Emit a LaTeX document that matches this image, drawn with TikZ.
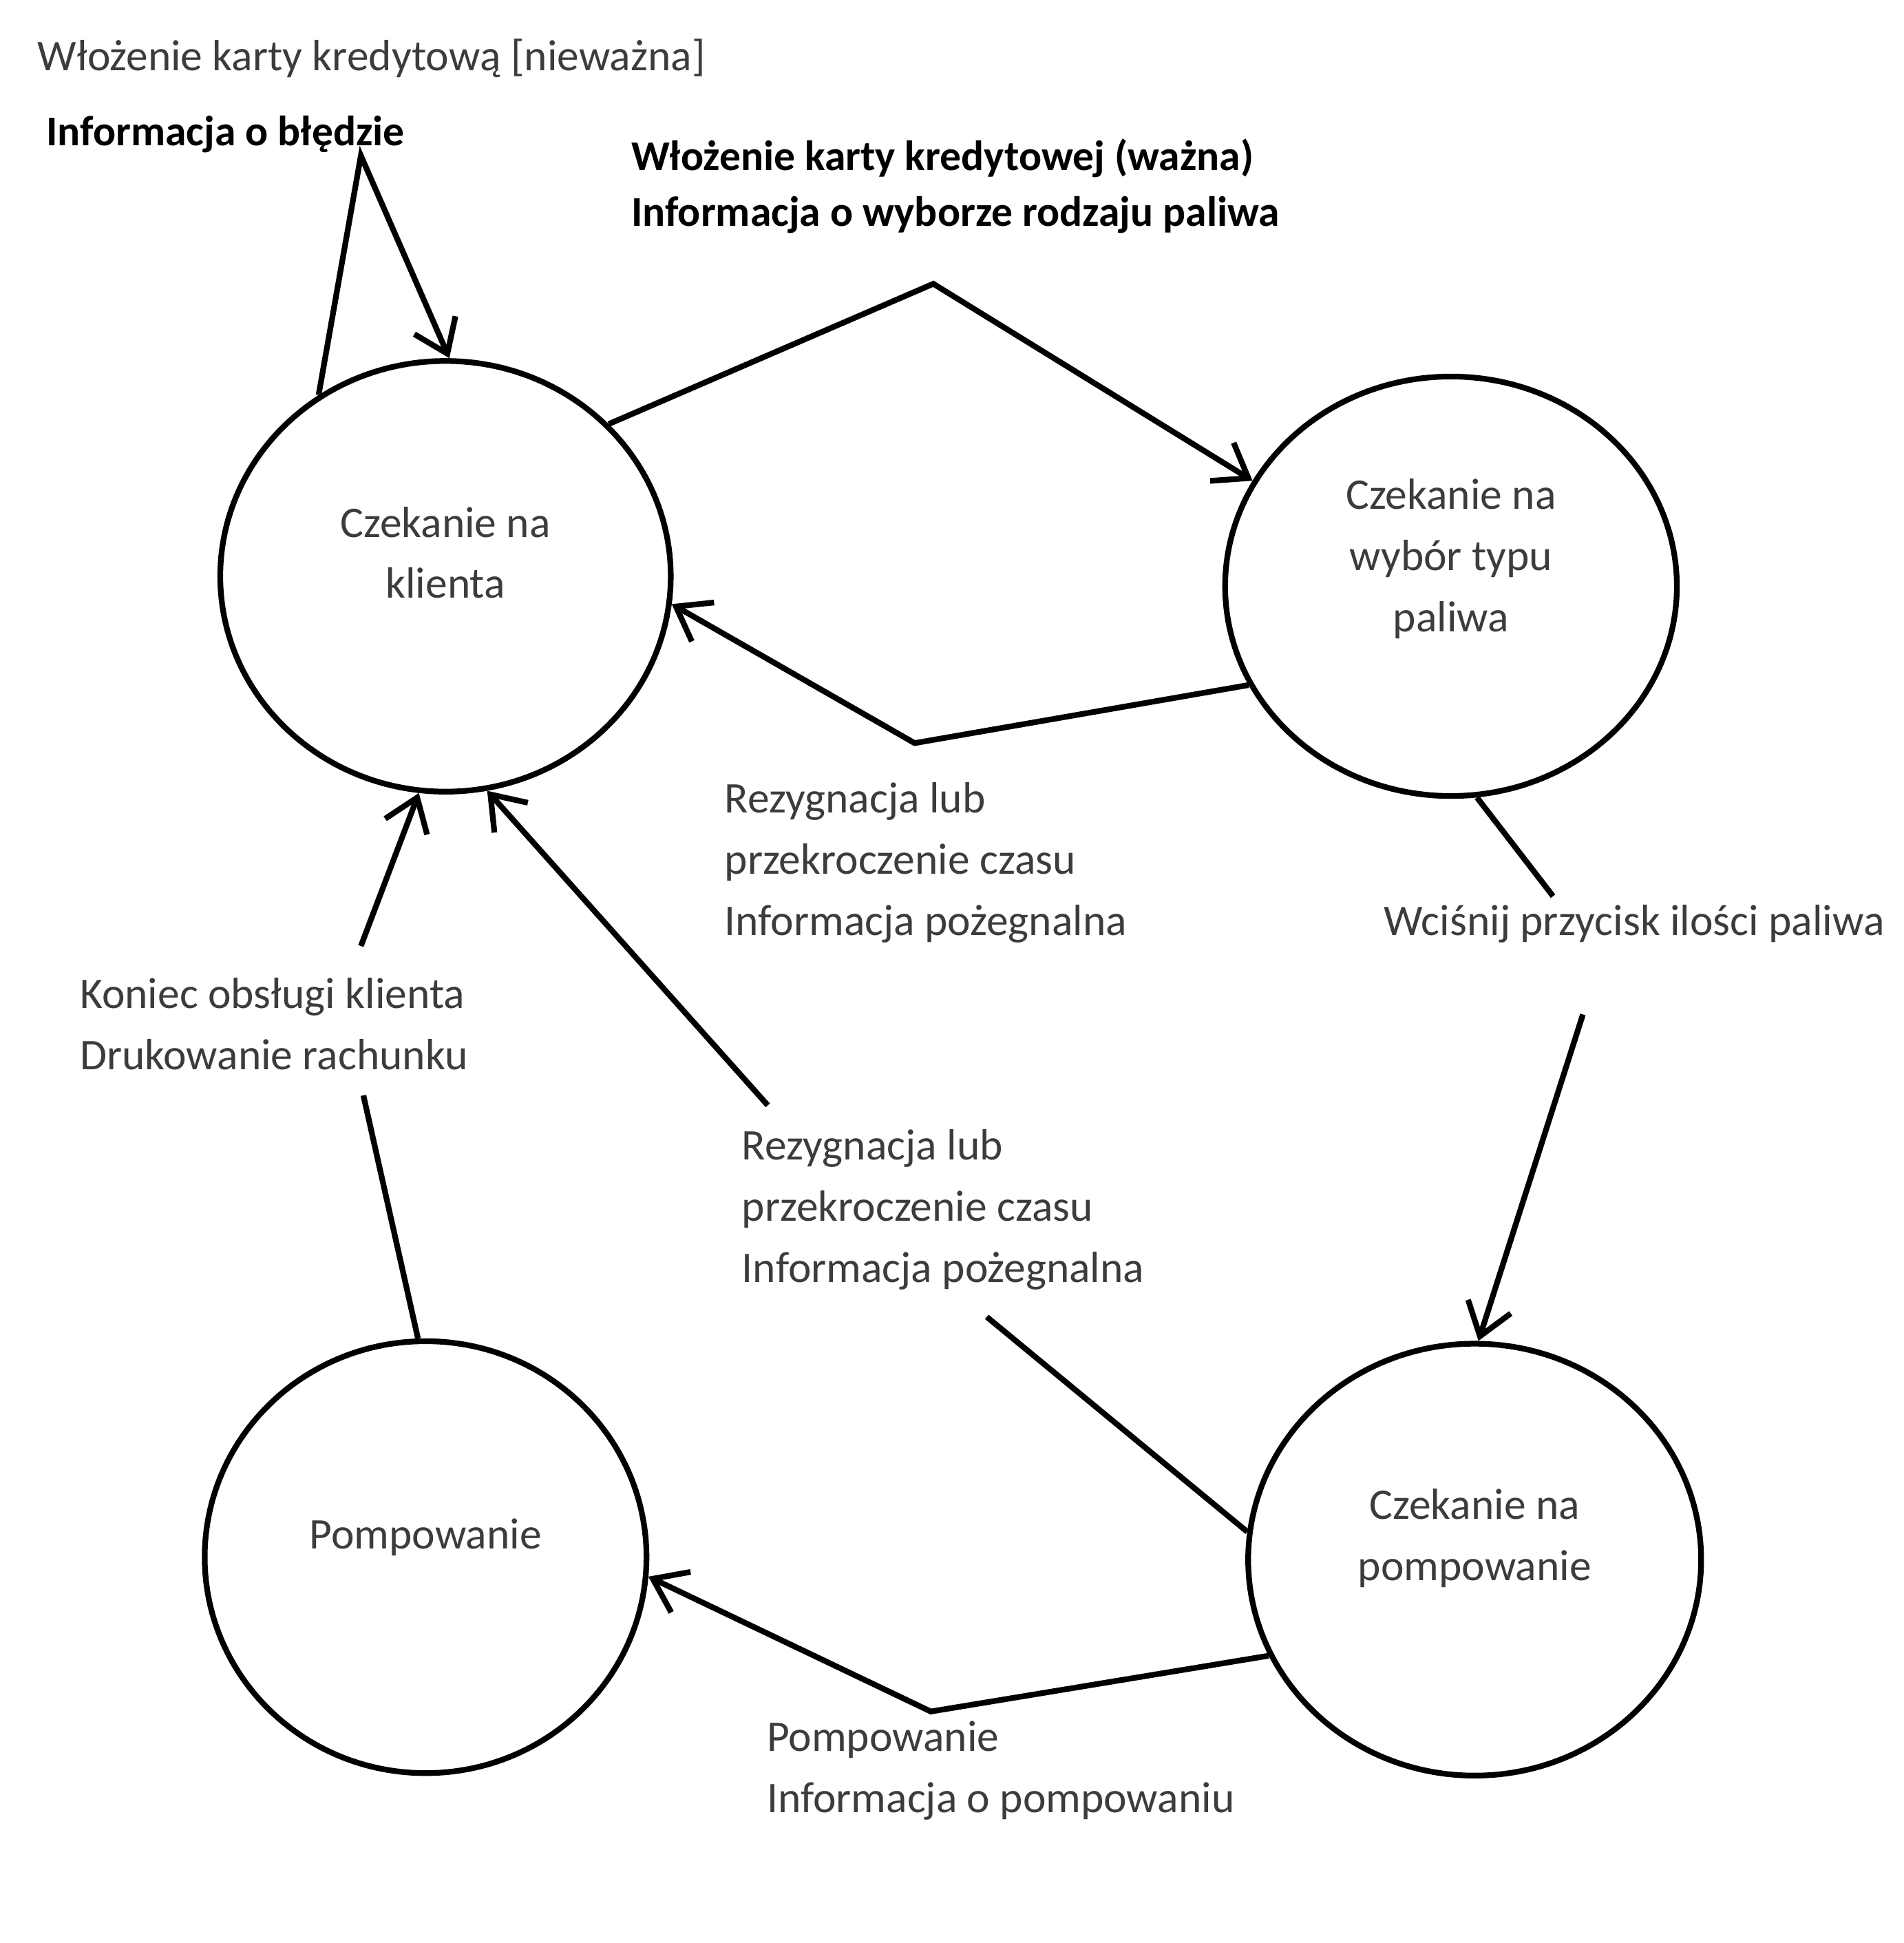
\documentclass[tikz,border=0pt]{standalone}
\usepackage{fontspec}
\setmainfont{Carlito}
\usetikzlibrary{shapes.geometric,arrows.meta}
\definecolor{labelgray}{HTML}{3C3C3C}

\begin{document}
\begin{tikzpicture}[
  line width=1.3pt,
  state/.style={ellipse, draw, inner sep=0pt},
  statetext/.style={text=labelgray, align=center, font=\fontsize{10}{14}\selectfont},
  lbl/.style={anchor=west, inner sep=0pt, align=left, text=labelgray, font=\fontsize{10}{14}\selectfont},
  boldlbl/.style={anchor=west, inner sep=0pt, align=left, font=\bfseries\fontsize{9.7}{12.8}\selectfont},
  trans/.style={draw, -{Straight Barb[length=2.5mm,width=3.6mm]}}
]
\useasboundingbox (0,0) rectangle (15.3,-15.61);

\node[state, minimum width=3.62cm, minimum height=3.46cm,
  label={[statetext,yshift=1.9mm]center:{Czekanie na\\klienta}}] (klient) at (3.58,-4.63) {};
\node[state, minimum width=3.63cm, minimum height=3.37cm,
  label={[statetext,yshift=2.2mm]center:{Czekanie na\\wybór typu\\paliwa}}] (wybor) at (11.66,-4.71) {};
\node[state, minimum width=3.64cm, minimum height=3.47cm,
  label={[statetext,yshift=1.7mm]center:{Czekanie na\\pompowanie}}] (czekpomp) at (11.85,-12.53) {};
\node[state, minimum width=3.55cm, minimum height=3.47cm,
  label={[statetext,yshift=1.6mm]center:Pompowanie}] (pomp) at (3.42,-12.51) {};

\node[lbl] (niewazna) at (0.28,-0.47) {Włożenie karty kredytową [nieważna]};
\node[boldlbl] (blad) at (0.35,-1.08) {Informacja o błędzie};
\node[boldlbl] (wazna) at (5.05,-1.495) {Włożenie karty kredytowej (ważna)\\Informacja o wyborze rodzaju paliwa};
\node[lbl] (rez1) at (5.80,-6.93) {Rezygnacja lub\\przekroczenie czasu\\Informacja pożegnalna};
\node[lbl] (wcisnij) at (11.10,-7.42) {Wciśnij przycisk ilości paliwa};
\node[lbl] (rez2) at (5.94,-9.72) {Rezygnacja lub\\przekroczenie czasu\\Informacja pożegnalna};
\node[lbl] (koniec) at (0.62,-8.225) {Koniec obsługi klienta\\Drukowanie rachunku};
\node[lbl] (pompinfo) at (6.14,-14.225) {Pompowanie\\Informacja o pompowaniu};

\coordinate (loop) at (2.90,-1.25);
\coordinate (kw) at (7.50,-2.28);
\coordinate (wk) at (7.35,-5.97);
\coordinate (wc1) at (12.48,-7.20);
\coordinate (wc2) at (12.72,-8.15);
\coordinate (ck1) at (7.93,-10.58);
\coordinate (ck2) at (6.17,-8.88);
\coordinate (cp) at (7.48,-13.75);
\coordinate (pk1) at (2.92,-8.80);
\coordinate (pk2) at (2.90,-7.60);

\draw[trans] (klient.125) -- (loop) -- (klient.89);
\draw[trans] (klient.43) -- (kw) -- (wybor.152);
\draw[trans] (wybor.206) -- (wk) -- (klient.-7);
\draw (wybor.-83) -- (wc1);
\draw[trans] (wc2) -- (czekpomp.89);
\draw (czekpomp.173) -- (ck1);
\draw[trans] (ck2) -- (klient.-79);
\draw[trans] (czekpomp.205) -- (cp) -- (pomp.-5);
\draw (pomp.92) -- (pk1);
\draw[trans] (pk2) -- (klient.-97);
\end{tikzpicture}
\end{document}
